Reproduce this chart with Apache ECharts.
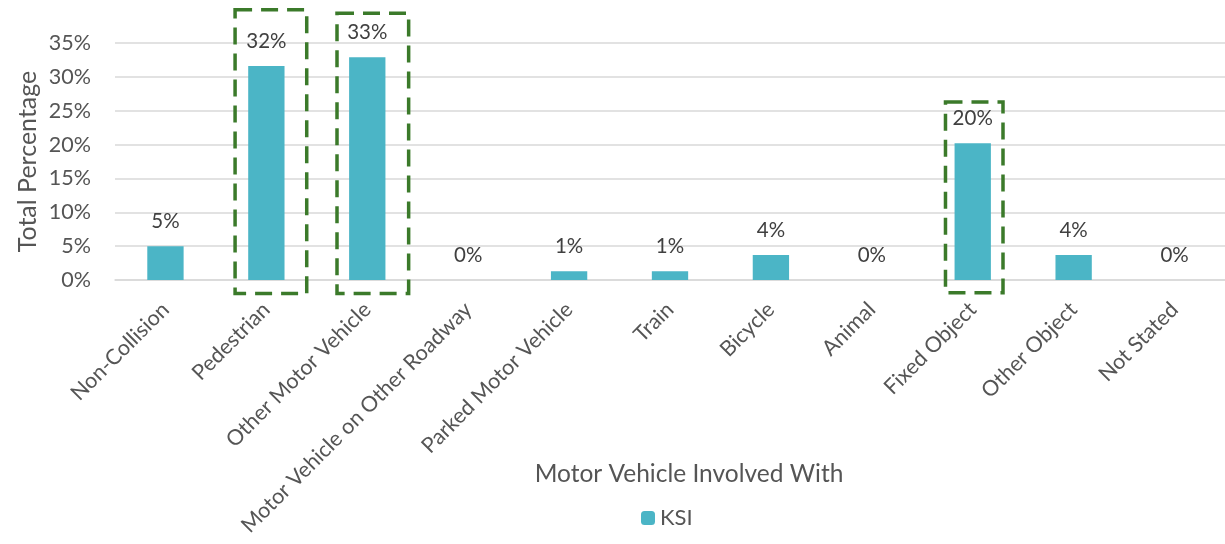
<!DOCTYPE html>
<html>
<head>
<meta charset="utf-8">
<script src="https://cdn.jsdelivr.net/npm/echarts@6/dist/echarts.min.js"></script>
<style>
  html, body { margin: 0; padding: 0; background: #fff; }
  #chart { width: 1225px; height: 544px; }
</style>
</head>
<body>
<div id="chart"></div>
<script>
const categories = ['Non-Collision', 'Pedestrian', 'Other Motor Vehicle', 'Motor Vehicle on Other Roadway',
  'Parked Motor Vehicle', 'Train', 'Bicycle', 'Animal', 'Fixed Object', 'Other Object', 'Not Stated'];
const ksi = [5.0, 31.6, 32.9, 0, 1.3, 1.3, 3.7, 0, 20.2, 3.7, 0];

// dashed highlight boxes: category, top/bottom in % units, left/right offsets in category widths
const boxCats = ['Pedestrian', 'Other Motor Vehicle', 'Fixed Object'];
const boxTop = [39.9, 39.4, 26.3];
const boxBottom = [-2.0, -2.0, -1.9];
const boxLeft = [-0.31, -0.30, -0.27];
const boxRight = [0.40, 0.41, 0.30];

const font = 'Lato, "Open Sans", sans-serif';
const textGray = '#555555';

const chart = echarts.init(document.getElementById('chart'));
chart.setOption({
  animation: false,
  textStyle: { fontFamily: font },
  grid: { left: 115, top: 43, width: 1125, height: 237 },
  legend: {
    data: ['KSI'],
    left: 636, top: 502,
    itemWidth: 14, itemHeight: 14, itemGap: 8,
    textStyle: { fontSize: 22, color: textGray, fontFamily: font }
  },
  xAxis: {
    type: 'category',
    data: categories,
    axisTick: { show: false },
    axisLine: { lineStyle: { color: '#d9d9d9', width: 1.5 } },
    axisLabel: { rotate: 45, interval: 0, margin: 26, fontSize: 21.5, color: textGray, fontFamily: font },
    name: 'Motor Vehicle Involved With',
    nameLocation: 'middle',
    nameMoveOverlap: false,
    nameGap: 182,
    nameTextStyle: { fontSize: 24.5, color: textGray, fontFamily: font, padding: [0, 0, 0, 38] }
  },
  yAxis: {
    type: 'value',
    min: 0, max: 35, interval: 5,
    axisLabel: { formatter: '{value}%', fontSize: 21.5, color: textGray, margin: 24, fontFamily: font },
    splitLine: { lineStyle: { color: '#d9d9d9', width: 1.5 } },
    axisLine: { show: false },
    name: 'Total Percentage',
    nameLocation: 'middle',
    nameMoveOverlap: false,
    nameGap: 75,
    nameTextStyle: { fontSize: 25, color: textGray, fontFamily: font }
  },
  series: [{
    name: 'KSI',
    type: 'bar',
    data: ksi,
    barWidth: '36%',
    itemStyle: { color: '#4bb5c6' },
    label: {
      show: true, position: 'top', distance: 14,
      formatter: p => Math.round(p.value) + '%',
      fontSize: 20.5, color: '#404040', fontFamily: font
    }
  }]
});

// draw the dashed boxes from axis scales
const x0 = chart.convertToPixel({ xAxisIndex: 0 }, categories[0]);
const x1 = chart.convertToPixel({ xAxisIndex: 0 }, categories[1]);
const catW = x1 - x0;
const boxes = boxCats.map((c, i) => {
  const cx = chart.convertToPixel({ xAxisIndex: 0 }, c);
  const yt = chart.convertToPixel({ yAxisIndex: 0 }, boxTop[i]);
  const yb = chart.convertToPixel({ yAxisIndex: 0 }, boxBottom[i]);
  const xl = cx + boxLeft[i] * catW;
  const xr = cx + boxRight[i] * catW;
  return {
    type: 'rect',
    shape: { x: xl, y: yt, width: xr - xl, height: yb - yt },
    style: { fill: 'none', stroke: '#3b7a2a', lineWidth: 3.5, lineDash: [17, 9] },
    z: 10
  };
});
chart.setOption({ graphic: boxes });
</script>
</body>
</html>
